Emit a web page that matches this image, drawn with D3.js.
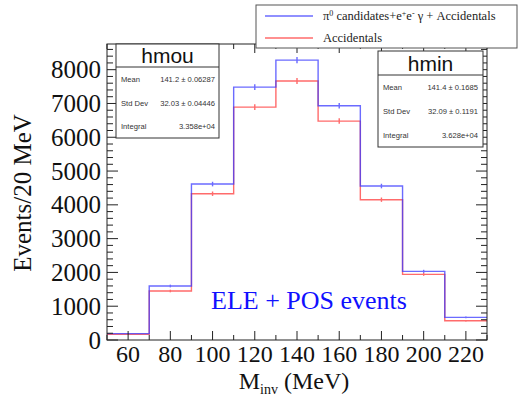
<!DOCTYPE html>
<html>
<head>
<meta charset="utf-8">
<script src="https://cdn.jsdelivr.net/npm/d3@7"></script>
<style>
  html, body { margin: 0; padding: 0; background: #fff; }
  svg { display: block; }
</style>
</head>
<body>
<svg id="chart" width="519" height="398"></svg>
<script>
// Invariant-mass histograms, 20 MeV bins from 50 to 230 MeV
const binCenters = [60, 80, 100, 120, 140, 160, 180, 200, 220];
const binWidth = 20;
const totalCounts = [190, 1598, 4615, 7485, 8284, 6933, 4556, 2032, 671];       // pi0 candidates + e+e- gamma + accidentals
const accidentalCounts = [170, 1450, 4329, 6893, 7663, 6479, 4152, 1943, 571];  // accidentals only
const xTickLabels = [60, 80, 100, 120, 140, 160, 180, 200, 220];
const yTickLabels = [0, 1000, 2000, 3000, 4000, 5000, 6000, 7000, 8000];

const statLabels = ["Mean", "Std Dev", "Integral"];
const hmouStats = ["141.2 \u00b1 0.06287", "32.03 \u00b1 0.04446", "3.358e+04"];
const hminStats = ["141.4 \u00b1 0.1685", "32.09 \u00b1 0.1191", "3.628e+04"];
const legendLabels = ["candidates+e", "Accidentals"];

const svg = d3.select("#chart");
const serif = "'Liberation Serif', 'Times New Roman', serif";
const sans = "'Liberation Sans', Arial, sans-serif";

const frame = { left: 107, right: 487, top: 44, bottom: 340 };
const x = d3.scaleLinear().domain([50, 230]).range([frame.left, frame.right]);
const y = d3.scaleLinear().domain([0, 8760]).range([frame.bottom, frame.top]);

const blue = "#3a3aff", red = "#ff3a3a";

// Histogram outlines (step lines) with statistical error bars
function drawHist(values, color) {
  const pts = [];
  values.forEach((v, i) => {
    const lo = binCenters[i] - binWidth / 2, hi = binCenters[i] + binWidth / 2;
    pts.push([x(lo), y(v)], [x(hi), y(v)]);
  });
  const g = svg.append("g").attr("opacity", 0.75);
  g.append("path")
    .attr("d", d3.line()(pts))
    .attr("fill", "none").attr("stroke", color).attr("stroke-width", 1.4);
  g.selectAll("line.err").data(values).enter().append("line")
    .attr("x1", (d, i) => x(binCenters[i])).attr("x2", (d, i) => x(binCenters[i]))
    .attr("y1", d => y(d + Math.sqrt(d))).attr("y2", d => y(d - Math.sqrt(d)))
    .attr("stroke", color).attr("stroke-width", 1.4);
}
drawHist(accidentalCounts, red);
drawHist(totalCounts, blue);

// Axes: ticks on all four sides, pointing inward
const axisG = svg.append("g").attr("stroke", "#222").attr("stroke-width", 1);
axisG.append("rect")
  .attr("x", frame.left).attr("y", frame.top)
  .attr("width", frame.right - frame.left).attr("height", frame.bottom - frame.top)
  .attr("fill", "none");

const yMinor = d3.range(0, 8760, 200);
yMinor.forEach(v => {
  const major = v % 1000 === 0;
  const len = major ? 11 : 6;
  axisG.append("line").attr("x1", frame.left).attr("x2", frame.left + len)
    .attr("y1", y(v)).attr("y2", y(v));
  axisG.append("line").attr("x1", frame.right).attr("x2", frame.right - len)
    .attr("y1", y(v)).attr("y2", y(v));
});
const xMinor = d3.range(50, 231, 10);
xMinor.forEach(v => {
  const major = (v - 60) % 20 === 0;
  const len = major ? 9 : 5;
  axisG.append("line").attr("x1", x(v)).attr("x2", x(v))
    .attr("y1", frame.bottom).attr("y2", frame.bottom - len);
  axisG.append("line").attr("x1", x(v)).attr("x2", x(v))
    .attr("y1", frame.top).attr("y2", frame.top + len);
});

// Tick labels
svg.append("g").selectAll("text").data(yTickLabels).enter().append("text")
  .attr("x", 101).attr("y", d => y(d) + 8.5)
  .attr("text-anchor", "end")
  .attr("font-family", serif).attr("font-size", 25).attr("fill", "#111")
  .text(d => d);
svg.append("g").selectAll("text").data(xTickLabels).enter().append("text")
  .attr("x", d => x(d)).attr("y", 362)
  .attr("text-anchor", "middle")
  .attr("font-family", serif).attr("font-size", 24).attr("fill", "#111")
  .text(d => d);

// Axis titles
svg.append("text")
  .attr("transform", "translate(31,193) rotate(-90)")
  .attr("text-anchor", "middle")
  .attr("font-family", serif).attr("font-size", 25).attr("fill", "#111")
  .text("Events/20 MeV");
const xt = svg.append("text")
  .attr("x", 294).attr("y", 389)
  .attr("text-anchor", "middle")
  .attr("font-family", serif).attr("font-size", 24).attr("fill", "#111");
xt.append("tspan").text("M");
xt.append("tspan").attr("font-size", 14).attr("dy", 5).text("inv");
xt.append("tspan").attr("dy", -5).text(" (MeV)");

// In-plot annotation
svg.append("text")
  .attr("x", 309).attr("y", 309)
  .attr("text-anchor", "middle")
  .attr("font-family", serif).attr("font-size", 26).attr("fill", "#1010ff")
  .text("ELE + POS events");

// Statistics boxes
function statBox(name, values, bx, by, bw, bh, divY, valueRight) {
  const g = svg.append("g");
  g.append("rect").attr("x", bx).attr("y", by).attr("width", bw).attr("height", bh)
    .attr("fill", "#fff").attr("stroke", "#333").attr("stroke-width", 1);
  g.append("line").attr("x1", bx).attr("x2", bx + bw).attr("y1", divY).attr("y2", divY)
    .attr("stroke", "#333");
  g.append("text").attr("x", bx + bw / 2).attr("y", divY - 4)
    .attr("text-anchor", "middle").attr("font-family", sans).attr("font-size", 21)
    .attr("fill", "#111").text(name);
  const rowH = (by + bh - divY) / 3;
  statLabels.forEach((lab, i) => {
    const ry = divY + rowH * (i + 0.5) + 3;
    g.append("text").attr("x", bx + 5).attr("y", ry)
      .attr("font-family", sans).attr("font-size", 7.6).attr("fill", "#333").text(lab);
    g.append("text").attr("x", valueRight).attr("y", ry).attr("text-anchor", "end")
      .attr("font-family", sans).attr("font-size", 7.6).attr("fill", "#333").text(values[i]);
  });
}
statBox("hmou", hmouStats, 116, 44, 103, 94, 67, 215);
statBox("hmin", hminStats, 378, 51, 105, 96, 75, 478);

// Legend
const lg = svg.append("g");
lg.append("rect").attr("x", 256).attr("y", 5).attr("width", 261).attr("height", 43)
  .attr("fill", "#fff").attr("stroke", "#555").attr("stroke-width", 1);
lg.append("line").attr("x1", 265).attr("x2", 313).attr("y1", 16).attr("y2", 16)
  .attr("stroke", blue).attr("stroke-opacity", 0.75).attr("stroke-width", 1.4);
lg.append("line").attr("x1", 265).attr("x2", 313).attr("y1", 38).attr("y2", 38)
  .attr("stroke", red).attr("stroke-opacity", 0.75).attr("stroke-width", 1.4);
const l1 = lg.append("text").attr("x", 323).attr("y", 20)
  .attr("font-family", serif).attr("font-size", 12.5).attr("fill", "#222");
l1.append("tspan").text("\u03c0");
l1.append("tspan").attr("font-size", 8).attr("dy", -4).text("0");
l1.append("tspan").attr("dy", 4).text(" " + legendLabels[0]);
l1.append("tspan").attr("font-size", 8).attr("dy", -4).text("+");
l1.append("tspan").attr("dy", 4).text("e");
l1.append("tspan").attr("font-size", 8).attr("dy", -4).text("-");
l1.append("tspan").attr("dy", 4).text(" \u03b3 + Accidentals");
lg.append("text").attr("x", 323).attr("y", 42)
  .attr("font-family", serif).attr("font-size", 12.5).attr("fill", "#222")
  .text(legendLabels[1]);
</script>
</body>
</html>
